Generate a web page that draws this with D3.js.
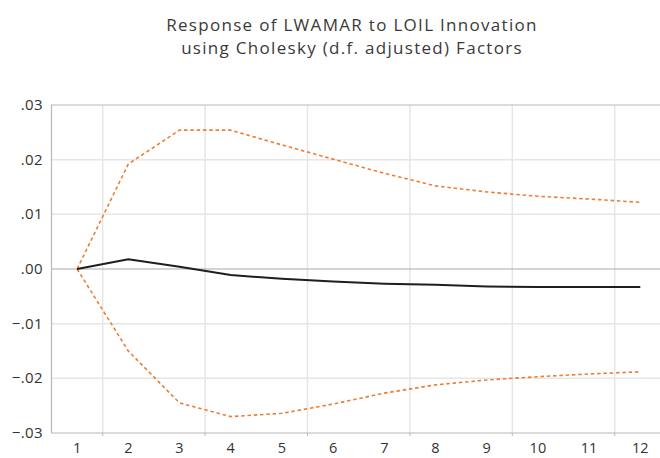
<!DOCTYPE html>
<html>
<head>
<meta charset="utf-8">
<script src="https://cdn.jsdelivr.net/npm/d3@7"></script>
<style>
  body { margin: 0; background: #fff; }
  svg { display: block; }
</style>
</head>
<body>
<div id="chart"></div>
<script>
// impulse response values
const periods = [1, 2, 3, 4, 5, 6, 7, 8, 9, 10, 11, 12];
const response = [0, 0.0018, 0.0004, -0.0011, -0.0018, -0.0023, -0.0027, -0.0029, -0.0032, -0.0033, -0.0033, -0.0033];
const upperBand = [0, 0.0192, 0.0254, 0.0254, 0.0227, 0.0201, 0.0175, 0.0152, 0.0141, 0.0133, 0.0128, 0.0122];
const lowerBand = [0, -0.0150, -0.0245, -0.0270, -0.0264, -0.0247, -0.0227, -0.0212, -0.0203, -0.0197, -0.0192, -0.0188];
const yTicks = [-0.03, -0.02, -0.01, 0, 0.01, 0.02, 0.03];
const gridPeriods = [1.5, 3.5, 5.5, 7.5, 9.5, 11.5];
const titleLines = ['Response of LWAMAR to LOIL Innovation', 'using Cholesky (d.f. adjusted) Factors'];

const width = 660, height = 458;
const plot = { left: 51.5, top: 105, bottom: 433 };

const svg = d3.select('#chart').append('svg')
    .attr('width', width)
    .attr('height', height);

const x = d3.scaleLinear().domain([0.5, 12.5]).range([plot.left, plot.left + 12 * 51.2]);
const y = d3.scaleLinear().domain([-0.03, 0.03]).range([plot.bottom, plot.top]);

// title
svg.append('g').selectAll('text')
    .data(titleLines)
    .join('text')
    .attr('x', 352)
    .attr('y', (d, i) => 31 + i * 23)
    .attr('text-anchor', 'middle')
    .attr('font-family', 'Open Sans, sans-serif')
    .attr('font-size', 17)
    .attr('letter-spacing', 1.3)
    .attr('fill', '#3a3a3a')
    .text(d => d);

// gridlines
svg.append('g').selectAll('line')
    .data(yTicks.filter(d => d != 0 && d != 0.03 && d != -0.03))
    .join('line')
    .attr('x1', plot.left).attr('x2', width)
    .attr('y1', d => y(d)).attr('y2', d => y(d))
    .attr('stroke', '#e6e6e6').attr('stroke-width', 1.5);

svg.append('g').selectAll('line')
    .data(gridPeriods)
    .join('line')
    .attr('x1', d => x(d)).attr('x2', d => x(d))
    .attr('y1', plot.top).attr('y2', plot.bottom)
    .attr('stroke', '#e6e6e6').attr('stroke-width', 1.5);

// zero line
svg.append('line')
    .attr('x1', plot.left).attr('x2', width)
    .attr('y1', y(0)).attr('y2', y(0))
    .attr('stroke', '#aaa').attr('stroke-width', 1.2);

// frame (right side runs off the picture)
svg.append('path')
    .attr('d', `M${width},${plot.top}H${plot.left}V${plot.bottom}H${width}`)
    .attr('fill', 'none')
    .attr('stroke', '#b8b8b8')
    .attr('stroke-width', 1.2);

// bottom ticks
svg.append('g').selectAll('line')
    .data(gridPeriods)
    .join('line')
    .attr('x1', d => x(d)).attr('x2', d => x(d))
    .attr('y1', plot.bottom).attr('y2', plot.bottom + 3)
    .attr('stroke', '#b8b8b8');

// axis labels
svg.append('g').selectAll('text')
    .data(yTicks)
    .join('text')
    .attr('x', 43)
    .attr('y', d => y(d) + 5)
    .attr('text-anchor', 'end')
    .attr('font-family', 'Open Sans, sans-serif')
    .attr('font-size', 15)
    .attr('letter-spacing', 0.4)
    .attr('fill', '#333')
    .text(d => d3.format('.2f')(d).replace('0.', '.'));

svg.append('g').selectAll('text')
    .data(periods)
    .join('text')
    .attr('x', d => x(d))
    .attr('y', 453)
    .attr('text-anchor', 'middle')
    .attr('font-family', 'Open Sans, sans-serif')
    .attr('font-size', 14.5)
    .attr('fill', '#333')
    .text(d => d);

// series
const line = d3.line()
    .x((d, i) => x(periods[i]))
    .y(d => y(d));

[upperBand, lowerBand].forEach(band => {
    svg.append('path')
        .datum(band)
        .attr('d', line)
        .attr('fill', 'none')
        .attr('stroke', '#ec7f36')
        .attr('stroke-width', 1.6)
        .attr('stroke-dasharray', '3.5,2.8');
});

svg.append('path')
    .datum(response)
    .attr('d', line)
    .attr('fill', 'none')
    .attr('stroke', '#1e1e1e')
    .attr('stroke-width', 2);
</script>
</body>
</html>
